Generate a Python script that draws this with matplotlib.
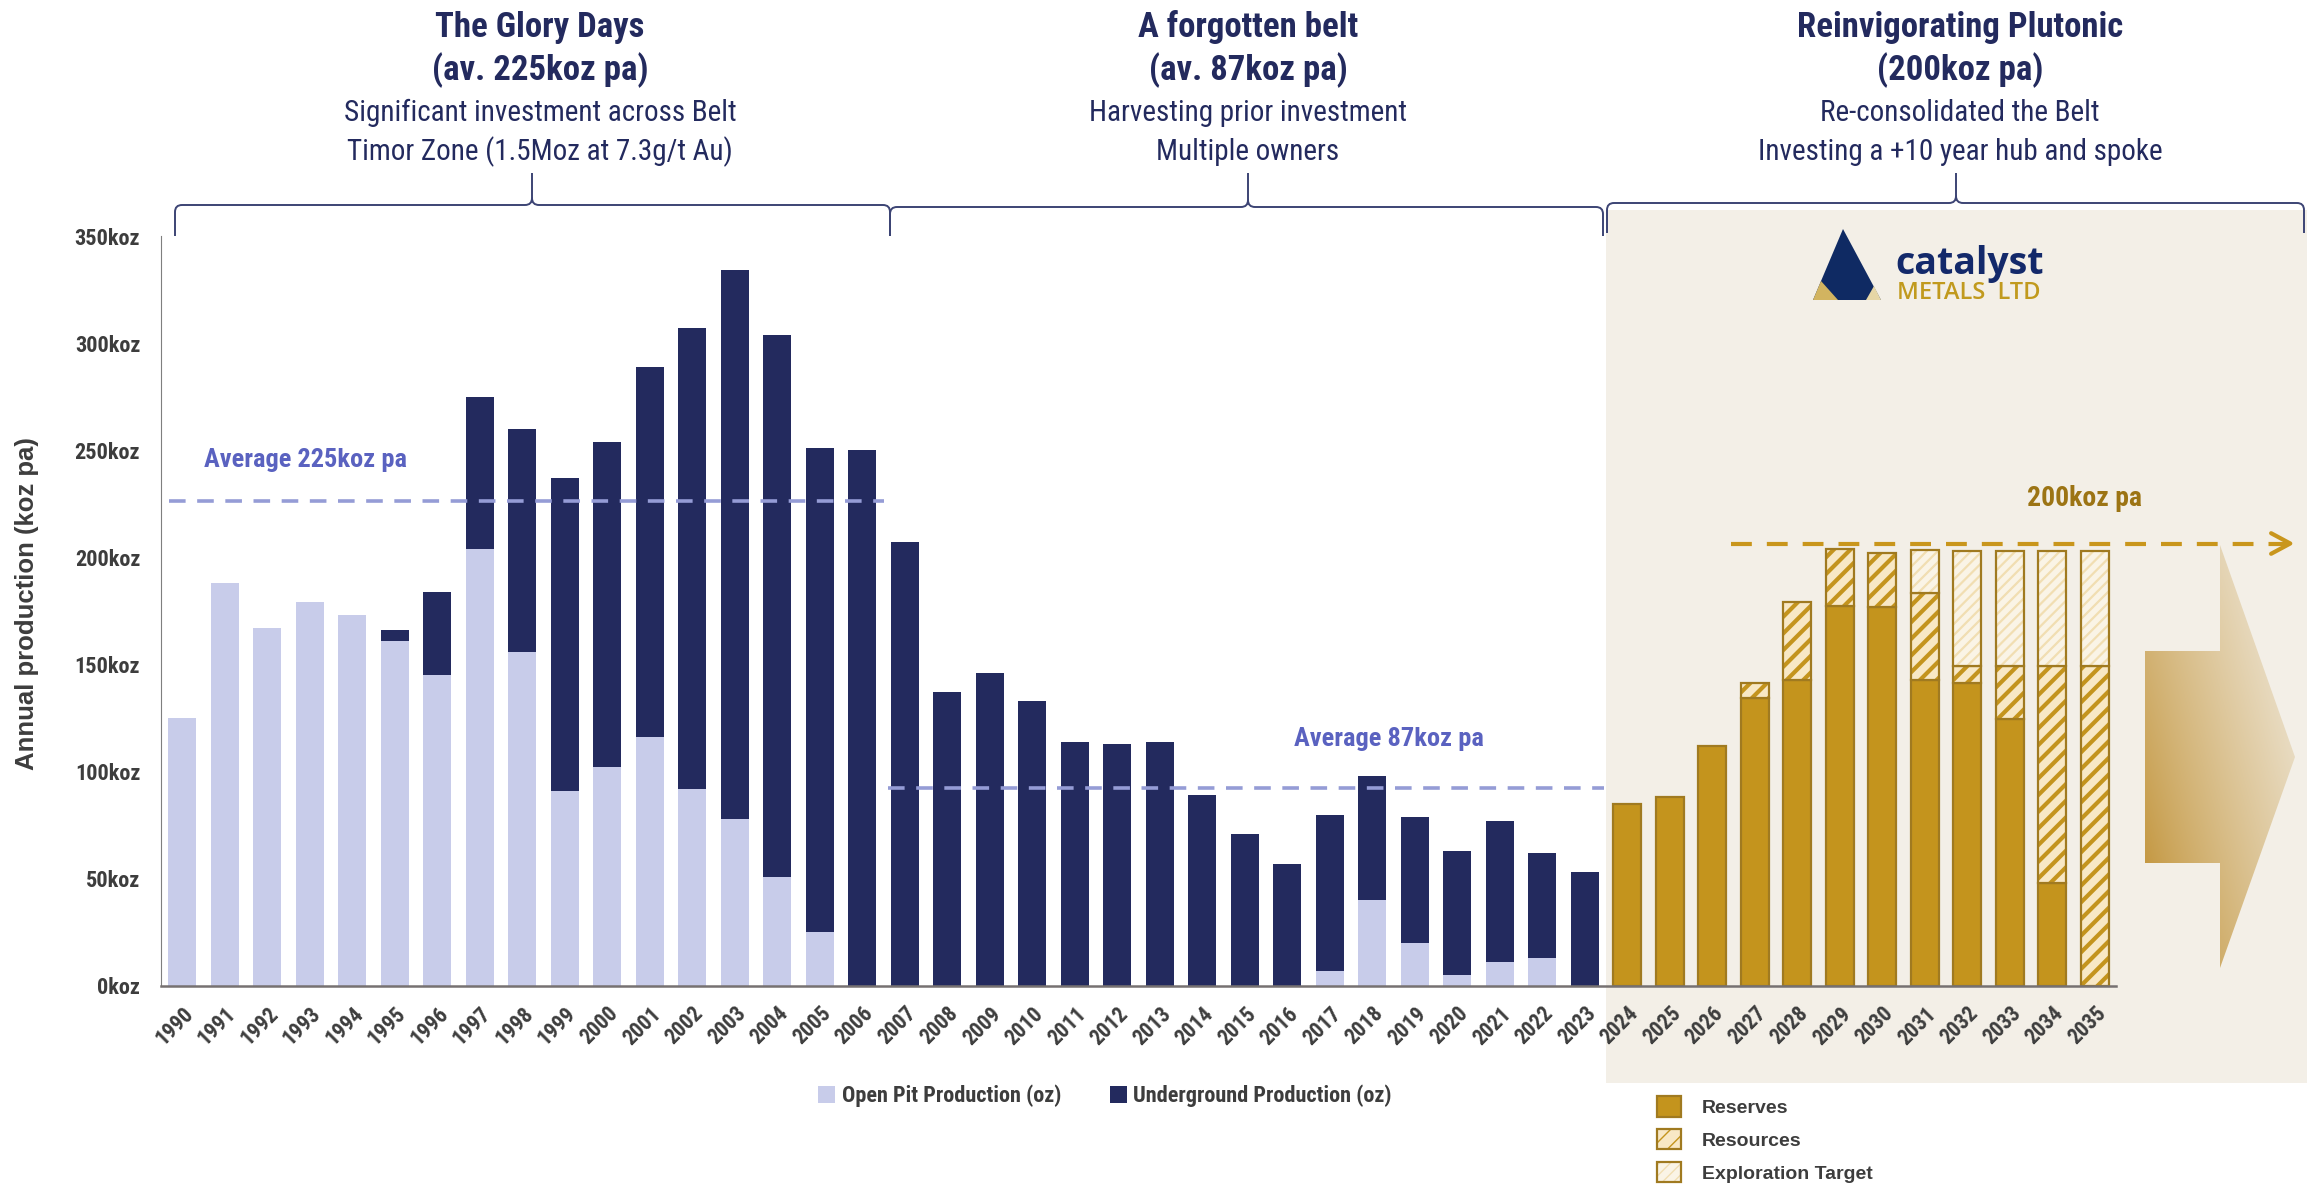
import numpy as np
import matplotlib
matplotlib.use('Agg')
import matplotlib.pyplot as plt
from matplotlib import font_manager as fm
from matplotlib.patches import Rectangle, Polygon, Patch, PathPatch
from matplotlib.path import Path
from matplotlib.legend_handler import HandlerTuple

# ---- data (koz) ----
years = list(range(1990, 2036))
open_pit = [125, 188, 167, 179, 173, 161, 145, 204, 156, 91, 102, 116, 92, 78,
            51, 25, 0, 0, 0, 0, 0, 0, 0, 0, 0, 0, 0, 7, 40, 20, 5, 11, 13, 0]
underground = [0, 0, 0, 0, 0, 5, 39, 71, 104, 146, 152, 173, 215, 256,
               253, 226, 250, 207, 137, 146, 133, 114, 113, 114, 89, 71, 57,
               73, 58, 59, 58, 66, 49, 53]
reserves = [85, 88, 112, 134.5, 143, 177.5, 177, 143, 141.5, 124.5, 48, 0]
resources = [0, 0, 0, 7, 36, 26.5, 25, 40.5, 8, 25, 101.5, 149.5]
exploration = [0, 0, 0, 0, 0, 0, 0, 20, 53.5, 53.5, 53.5, 53.5]

avg_glory = 226.5      # level the "Average 225koz pa" line is drawn at
avg_forgotten = 92.5   # level the "Average 87koz pa" line is drawn at
target = 206.5         # 200koz pa target arrow

# ---- fonts ----
names = {f.name for f in fm.fontManager.ttflist}
NARROW = next((n for n in ['Liberation Sans Narrow', 'Arial Narrow', 'Roboto Condensed']
               if n in names), 'Liberation Sans')
SANS = 'Liberation Sans' if 'Liberation Sans' in names else 'DejaVu Sans'
LOGO = 'Open Sans' if 'Open Sans' in names else SANS

# ---- colours ----
NAVY = '#232A5E'
LAV = '#C8CCEA'
GOLD = '#C4941D'
GOLD_EDGE = '#A07A20'
RES_FACE = '#F8E8C5'
EXP_FACE = '#FAF4E6'
EXP_STRIPE = '#F1DEB2'
PANEL = '#F3EFE7'
AVG_LINE = '#959CD6'
AVG_TEXT = '#5A62C0'
GREY = '#3D3D3D'

W, H = 2318, 1188
fig = plt.figure(figsize=(W / 100, H / 100), dpi=100)

# decoration layer in pixel coordinates (behind the chart)
deco = fig.add_axes([0, 0, 1, 1], zorder=0)
deco.set_xlim(0, W)
deco.set_ylim(H, 0)
deco.axis('off')

ax = fig.add_axes([161 / W, 202 / H, 1955 / W, 750 / H], zorder=1)
ax.patch.set_alpha(0)

# forecast panel
deco.add_patch(Rectangle((1606, 210), 701, 873, color=PANEL, lw=0))

# ---- historic bars ----
x_hist = np.arange(len(open_pit))
op = np.array(open_pit, float)
ug = np.array(underground, float)
bw = 0.66
h_op = ax.bar(x_hist, op, bw, color=LAV, lw=0)
h_ug = ax.bar(x_hist, ug, bw, bottom=op, color=NAVY, lw=0)

# ---- forecast bars ----
x_fc = np.arange(len(open_pit), len(years))
rv = np.array(reserves, float)
rs = np.array(resources, float)
ex = np.array(exploration, float)


def hatched(xs, h, b, face, stripe, pattern, hlw):
    with plt.rc_context({'hatch.linewidth': hlw}):
        bars = ax.bar(xs, h, bw, bottom=b, color=face, edgecolor=stripe,
                      hatch=pattern, lw=0)
    for p in bars:
        if hasattr(p, 'set_hatch_linewidth'):
            p.set_hatch_linewidth(hlw)
    ax.bar(xs, h, bw, bottom=b, fill=False, edgecolor=GOLD_EDGE, lw=1.6)


m = rv > 0
ax.bar(x_fc[m], rv[m], bw, color=GOLD, edgecolor=GOLD_EDGE, lw=1.6)
m = rs > 0
hatched(x_fc[m], rs[m], rv[m], RES_FACE, GOLD, '//', 3.0)
m = ex > 0
hatched(x_fc[m], ex[m], (rv + rs)[m], EXP_FACE, EXP_STRIPE, '///', 1.6)

# ---- average / target lines ----
ax.plot([-0.31, 16.5], [avg_glory] * 2, color=AVG_LINE, lw=2.6,
        ls=(0, (4.6, 3.2)))
ax.plot([16.6, 33.45], [avg_forgotten] * 2, color=AVG_LINE, lw=2.6,
        ls=(0, (4.6, 3.2)))
ax.text(0.5, 242, 'Average 225koz pa', color=AVG_TEXT, fontsize=19,
        fontweight='bold', family=NARROW, va='baseline')
ax.text(26.15, 112, 'Average 87koz pa', color=AVG_TEXT, fontsize=19,
        fontweight='bold', family=NARROW, va='baseline')

ax.plot([36.45, 49.55], [target] * 2, color='#C9961C', lw=3.0,
        ls=(0, (5.0, 3.6)), clip_on=False)
ax.plot([49.15, 49.6, 49.15], [target + 4.8, target, target - 4.8],
        color='#C9961C', lw=3.0, clip_on=False, solid_capstyle='round')
ax.text(43.4, 224, '200koz pa', color='#9C7414', fontsize=20,
        fontweight='bold', family=NARROW, va='baseline')

# ---- axes styling ----
ax.set_xlim(-0.5, len(years) - 0.5)
ax.set_ylim(0, 350)
yt = np.arange(0, 351, 50)
ax.set_yticks(yt, [f'{v}koz' for v in yt])
ax.set_xticks(np.arange(len(years)), [str(y) for y in years])
for s in ['top', 'right']:
    ax.spines[s].set_visible(False)
ax.spines['left'].set_color('#7F7F7F')
ax.spines['left'].set_linewidth(0.8)
ax.spines['bottom'].set_color('#767171')
ax.spines['bottom'].set_linewidth(1.8)
ax.tick_params(axis='y', length=0, pad=15, labelsize=16, labelcolor=GREY)
ax.tick_params(axis='x', length=0, pad=12, labelsize=15.5, labelcolor=GREY)
for lab in ax.get_yticklabels() + ax.get_xticklabels():
    lab.set_family(NARROW)
    lab.set_fontweight('bold')
plt.setp(ax.get_xticklabels(), rotation=45, ha='right', va='top',
         rotation_mode='anchor')

fig.text(27 / W, 1 - 604 / H, 'Annual production (koz pa)', rotation=90,
         ha='center', va='center', fontsize=18.5, fontweight='bold',
         family=SANS, color=GREY)

# ---- legends ----
fig.legend([h_op, h_ug], ['Open Pit Production (oz)', 'Underground Production (oz)'],
           loc='center', bbox_to_anchor=(1105 / W, 1 - 1096 / H), ncol=2,
           frameon=False, handlelength=0.75, handleheight=0.75,
           handletextpad=0.3, columnspacing=2.2, labelcolor=GREY,
           prop=dict(family=NARROW, weight='bold', size=16))

with plt.rc_context({'hatch.linewidth': 3.0}):
    p_res = Patch(facecolor=RES_FACE, edgecolor=GOLD, hatch='//', lw=0)
with plt.rc_context({'hatch.linewidth': 1.6}):
    p_exp = Patch(facecolor=EXP_FACE, edgecolor=EXP_STRIPE, hatch='///', lw=0)
outline = Patch(fill=False, edgecolor=GOLD_EDGE, lw=1.6)
fig.legend([Patch(facecolor=GOLD, edgecolor=GOLD_EDGE, lw=1.6),
            (p_res, outline), (p_exp, outline)],
           ['Reserves', 'Resources', 'Exploration Target'],
           loc='upper left', bbox_to_anchor=(1657 / W, 1 - 1096 / H),
           frameon=False, borderpad=0, borderaxespad=0,
           handlelength=1.25, handleheight=1.25, handletextpad=1.05,
           labelspacing=0.62, labelcolor=GREY,
           handler_map={tuple: HandlerTuple(ndivide=1, pad=0)},
           prop=dict(family=SANS, weight='bold', size=14))

# ---- header text ----
headers = [
    (540, 'The Glory Days', '(av. 225koz pa)',
     'Significant investment across Belt', 'Timor Zone (1.5Moz at 7.3g/t Au)'),
    (1248, 'A forgotten belt', '(av. 87koz pa)',
     'Harvesting prior investment', 'Multiple owners'),
    (1960, 'Reinvigorating Plutonic', '(200koz pa)',
     'Re-consolidated the Belt', 'Investing a +10 year hub and spoke'),
]
for xc, t1, t2, t3, t4 in headers:
    deco.text(xc, 37, t1, ha='center', va='baseline', fontsize=25,
              fontweight='bold', family=NARROW, color=NAVY)
    deco.text(xc, 80, t2, ha='center', va='baseline', fontsize=25,
              fontweight='bold', family=NARROW, color=NAVY)
    deco.text(xc, 121, t3, ha='center', va='baseline', fontsize=21,
              family=NARROW, color=NAVY)
    deco.text(xc, 160, t4, ha='center', va='baseline', fontsize=21,
              family=NARROW, color=NAVY)


# ---- curly brackets ----
def brace(x0, x1, xc, yl, ye=236, yt=173, r=7):
    verts = [(x0, ye), (x0, yl + r), (x0, yl), (x0 + r, yl),
             (xc - r, yl), (xc, yl), (xc, yl - r), (xc, yt),
             (xc, yl - r), (xc, yl), (xc + r, yl),
             (x1 - r, yl), (x1, yl), (x1, yl + r), (x1, ye)]
    codes = [Path.MOVETO, Path.LINETO, Path.CURVE3, Path.CURVE3,
             Path.LINETO, Path.CURVE3, Path.CURVE3, Path.LINETO,
             Path.MOVETO, Path.CURVE3, Path.CURVE3,
             Path.LINETO, Path.CURVE3, Path.CURVE3, Path.LINETO]
    deco.add_patch(PathPatch(Path(verts, codes), fill=False,
                             edgecolor='#3C4474', lw=1.4))


brace(175, 890, 532, 205)
brace(890, 1603, 1248, 207)
brace(1607, 2304, 1956, 203, ye=233)

# ---- gradient arrow ----
arrow = Polygon([(2145, 651), (2220, 651), (2220, 545), (2295, 757),
                 (2220, 968), (2220, 863), (2145, 863)], closed=True,
                facecolor='none', edgecolor='none')
deco.add_patch(arrow)
gx, gy = np.meshgrid(np.linspace(0, 1, 200), np.linspace(0, 1, 400))
t = np.clip(0.6 * gx + 0.45 * gy - 0.08, 0, 1) ** 0.85
c0 = np.array([194, 148, 58]) / 255
c1 = np.array([243, 239, 231]) / 255
img = c0 + (c1 - c0) * t[..., None]
im = deco.imshow(img[::-1], extent=(2145, 2295, 968, 545), aspect='auto',
                 origin='upper', zorder=1)
im.set_clip_path(arrow)
deco.set_xlim(0, W)
deco.set_ylim(H, 0)

# ---- logo ----
deco.add_patch(Polygon([(1843, 229), (1813, 300), (1881, 300)],
                       color='#0F2A63', lw=0))
deco.add_patch(Polygon([(1813, 300), (1838, 300), (1821, 281)],
                       color='#D2B460', lw=0))
deco.add_patch(Polygon([(1866, 300), (1881, 300), (1874, 286)],
                       color='#E6D6A6', lw=0))
deco.text(1895, 274, 'catalyst', fontsize=27, fontweight='bold', family=LOGO,
          color='#13296A', va='baseline')
deco.text(1897, 299, 'METALS  LTD', fontsize=17, fontweight='semibold',
          family=LOGO, color='#C19A1E', va='baseline')

fig.savefig('out.png', dpi=100)
